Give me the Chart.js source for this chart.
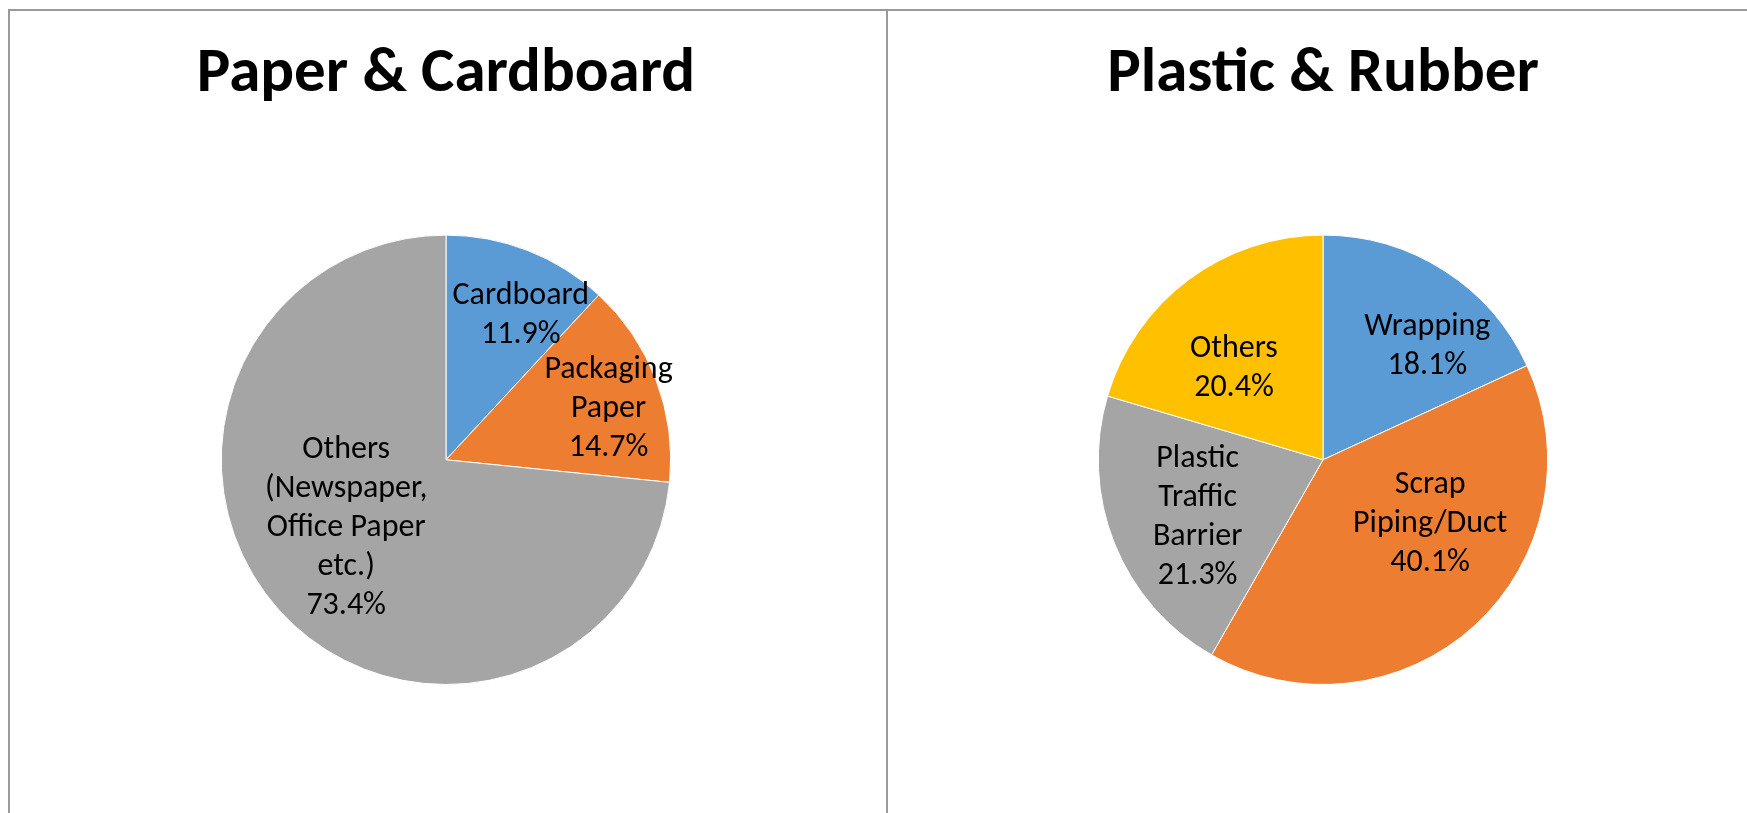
<!DOCTYPE html>
<html>
<head>
<meta charset="utf-8">
<script src="https://cdn.jsdelivr.net/npm/chart.js@4"></script>
<style>
    html, body { margin: 0; padding: 0; background: #fff; overflow: hidden; }
    body { width: 1747px; height: 813px; position: relative; }
    .panel { position: absolute; top: 10px; width: 877px; height: 803px; }
    .rule { position: absolute; background: #9a9a9a; }
</style>
</head>
<body>
<div class="rule" style="left:8px; top:9px; width:1739px; height:2px;"></div>
<div class="rule" style="left:8px; top:9px; width:2px; height:804px;"></div>
<div class="rule" style="left:886px; top:9px; width:2px; height:804px;"></div>
<div class="panel" style="left:9px;"><canvas id="paperChart"></canvas></div>
<div class="panel" style="left:887px;"><canvas id="plasticChart"></canvas></div>

<script>
// Paper & Cardboard breakdown (%)
const paperCategories = [['Cardboard'], ['Packaging', 'Paper'], ['Others', '(Newspaper,', 'Office Paper', 'etc.)']];
const paperValues = [11.9, 14.7, 73.4];

// Plastic & Rubber breakdown (%)
const plasticCategories = [['Wrapping'], ['Scrap', 'Piping/Duct'], ['Plastic', 'Traffic', 'Barrier'], ['Others']];
const plasticValues = [18.1, 40.1, 21.3, 20.4];

const sliceColors = ['#5B9BD5', '#ED7D31', '#A5A5A5', '#FFC000'];
const fontFamily = "Carlito, Calibri, Lato, 'Open Sans', sans-serif";

// Draws "name / value%" inside each slice, Excel best-fit style.
// place[i] = [radius fraction, angle nudge in degrees]
const sliceLabels = {
    id: 'sliceLabels',
    afterDatasetsDraw(chart, args, opts) {
        const ctx = chart.ctx;
        const meta = chart.getDatasetMeta(0);
        const values = chart.data.datasets[0].data;
        const size = opts.size;
        const lineH = size * 1.22;
        const capH = size * 0.66;
        ctx.save();
        ctx.font = size + 'px ' + fontFamily;
        ctx.fillStyle = '#000';
        ctx.textAlign = 'center';
        ctx.textBaseline = 'alphabetic';
        meta.data.forEach((arc, i) => {
            const p = arc.getProps(['x', 'y', 'startAngle', 'endAngle', 'outerRadius'], true);
            const place = opts.place[i];
            const mid = (p.startAngle + p.endAngle) / 2 + place[1] * Math.PI / 180;
            const r = p.outerRadius * place[0];
            const cx = p.x + Math.cos(mid) * r;
            const cy = p.y + Math.sin(mid) * r;
            const lines = chart.data.labels[i].concat([values[i].toFixed(1) + '%']);
            let y = cy - ((lines.length - 1) * lineH - capH) / 2;
            lines.forEach(line => {
                ctx.fillText(line, cx, y);
                y += lineH;
            });
        });
        ctx.restore();
    }
};

function makePie(canvasId, title, categories, values, place, padRight) {
    const ctx = document.getElementById(canvasId).getContext('2d');
    return new Chart(ctx, {
        type: 'pie',
        data: {
            labels: categories,
            datasets: [{
                data: values,
                backgroundColor: sliceColors.slice(0, values.length),
                borderColor: '#ffffff',
                borderWidth: 1
            }]
        },
        options: {
            responsive: true,
            maintainAspectRatio: false,
            animation: false,
            events: [],
            layout: {
                padding: { top: 0, bottom: 128, left: 0, right: padRight }
            },
            plugins: {
                legend: { display: false },
                tooltip: { enabled: false },
                title: {
                    display: true,
                    text: title,
                    color: '#000',
                    font: { family: fontFamily, size: 63, weight: 'bold', lineHeight: 1.2 },
                    padding: { top: 27, bottom: 122 }
                },
                sliceLabels: { size: 32, place: place }
            }
        },
        plugins: [sliceLabels]
    });
}

makePie('paperChart', 'Paper & Cardboard', paperCategories, paperValues,
    [[0.735, 5.5], [0.762, 2.4], [0.531, 8.9]], 3);
makePie('plasticChart', 'Plastic & Rubber', plasticCategories, plasticValues,
    [[0.695, 9.3], [0.55, -17.6], [0.61, -2], [0.575, -6.8]], 5);
</script>
</body>
</html>
